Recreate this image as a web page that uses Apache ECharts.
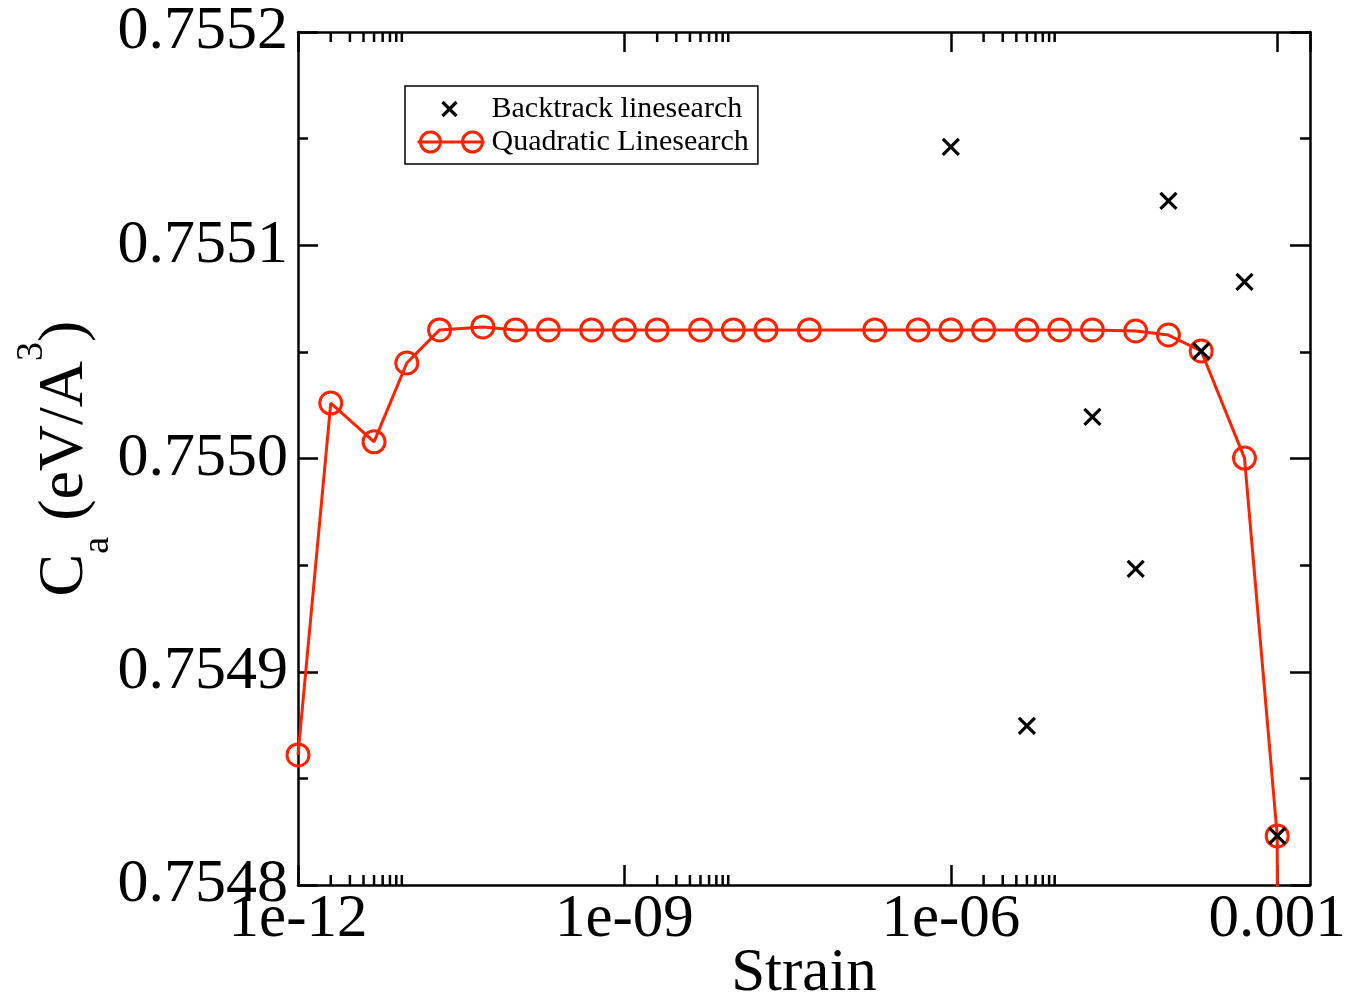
<!DOCTYPE html>
<html>
<head>
<meta charset="utf-8">
<script src="https://cdn.jsdelivr.net/npm/echarts@6/dist/echarts.min.js"></script>
<style>
html,body{margin:0;padding:0;background:#fff;}
#chart{width:1355px;height:1001px;}
</style>
</head>
<body>
<div id="chart"></div>
<script>
// ---- data ----
const quadStrain = [1e-12, 2e-12, 5e-12, 1e-11, 2e-11, 5e-11, 1e-10, 2e-10, 5e-10, 1e-9, 2e-9, 5e-9, 1e-8, 2e-8, 5e-8, 2e-7, 5e-7, 1e-6, 2e-6, 5e-6, 1e-5, 2e-5, 5e-5, 1e-4, 2e-4, 5e-4, 1e-3, 1.02e-3];
const quadCa = [0.754861, 0.755026, 0.7550078, 0.7550448, 0.7550603, 0.7550617, 0.7550603, 0.7550603, 0.7550603, 0.7550603, 0.7550603, 0.7550603, 0.7550603, 0.7550603, 0.7550603, 0.7550603, 0.7550603, 0.7550603, 0.7550603, 0.7550603, 0.7550603, 0.7550603, 0.7550598, 0.7550579, 0.7550504, 0.7550002, 0.754823, 0.75450];
const backStrain = [1e-6, 5e-6, 2e-5, 5e-5, 1e-4, 2e-4, 5e-4, 1e-3];
const backCa = [0.7551461, 0.7548746, 0.7550195, 0.7549482, 0.7551208, 0.7550504, 0.7550828, 0.754823];
const xTickExps = [-12, -9, -6, -3];
const xTickLabels = ['1e-12', '1e-09', '1e-06', '0.001'];
const xMinorTicks = [2e-12, 3e-12, 4e-12, 5e-12, 6e-12, 7e-12, 8e-12, 9e-12,
                     2e-9, 3e-9, 4e-9, 5e-9, 6e-9, 7e-9, 8e-9, 9e-9,
                     2e-6, 3e-6, 4e-6, 5e-6, 6e-6, 7e-6, 8e-6, 9e-6];
const X_MIN = 1e-12, X_MAX = 2e-3, X_LOG_STEP = 3;
const Y_MIN = 0.7548, Y_MAX = 0.7552, Y_STEP = 0.0001;

const RED = '#ff2200';
const FONT = '"Liberation Serif", "Times New Roman", serif';

function zip(a, b) { return a.map((v, i) => [v, b[i]]); }

const chart = echarts.init(document.getElementById('chart'));

const axisLineStyle = { show: true, onZero: false, lineStyle: { color: '#000', width: 2.5 } };
const tickStyle = { show: true, inside: true, length: 20, lineStyle: { color: '#000', width: 2.5 } };
const minorStyle = { show: true, splitNumber: 2, length: 10, lineStyle: { color: '#000', width: 2.5 } };

function xLabel(v) {
  const lg = Math.log10(v);
  const e = Math.round(lg);
  const i = xTickExps.indexOf(e);
  if (i < 0 || Math.abs(lg - e) > 1e-6) return '';
  return xTickLabels[i];
}

const option = {
  backgroundColor: '#fff',
  animation: false,
  grid: { left: 298, right: 45, top: 32, bottom: 116, containLabel: false, outerBoundsMode: 'none' },
  xAxis: [
    {
      type: 'log', logBase: 10, min: X_MIN, max: X_MAX, interval: X_LOG_STEP, splitNumber: 3,
      position: 'bottom',
      axisLine: axisLineStyle, axisTick: tickStyle, splitLine: { show: false },
      axisLabel: { show: true, formatter: xLabel, fontFamily: FONT, fontSize: 61, color: '#000', margin: 4, showMaxLabel: false },
      name: 'Strain', nameLocation: 'middle', nameGap: 58, nameMoveOverlap: false,
      nameTextStyle: { fontFamily: FONT, fontSize: 61, color: '#000' }
    },
    {
      type: 'log', logBase: 10, min: X_MIN, max: X_MAX, interval: X_LOG_STEP, splitNumber: 3,
      position: 'top',
      axisLine: axisLineStyle, axisTick: tickStyle, splitLine: { show: false },
      axisLabel: { show: false }
    }
  ],
  yAxis: [
    {
      type: 'value', min: Y_MIN, max: Y_MAX, interval: Y_STEP, position: 'left',
      axisLine: axisLineStyle, axisTick: tickStyle, minorTick: minorStyle,
      splitLine: { show: false }, minorSplitLine: { show: false },
      axisLabel: { formatter: v => v.toFixed(4), fontFamily: FONT, fontSize: 62, color: '#000', margin: 10 },
      name: '{m|C}{sub|a}{m| (eV/A}{sup|3}{m|)}',
      nameLocation: 'middle', nameRotate: 90, nameGap: 181, nameMoveOverlap: false,
      nameTextStyle: {
        fontFamily: FONT, color: '#000',
        rich: {
          m: { fontFamily: FONT, fontSize: 64, lineHeight: 104, verticalAlign: 'middle', color: '#000' },
          sub: { fontFamily: FONT, fontSize: 38, lineHeight: 38, verticalAlign: 'bottom', color: '#000' },
          sup: { fontFamily: FONT, fontSize: 38, lineHeight: 38, verticalAlign: 'top', color: '#000' }
        }
      }
    },
    {
      type: 'value', min: Y_MIN, max: Y_MAX, interval: Y_STEP, position: 'right',
      axisLine: axisLineStyle, axisTick: tickStyle, minorTick: minorStyle,
      splitLine: { show: false }, minorSplitLine: { show: false },
      axisLabel: { show: false }
    }
  ],
  legend: {
    show: true, orient: 'vertical', left: 405, top: 86,
    padding: [8, 9, 7, 10], itemGap: 3, itemWidth: 67, itemHeight: 22,
    borderColor: '#000', borderWidth: 1.5, backgroundColor: '#fff',
    selectedMode: false,
    textStyle: { fontFamily: FONT, fontSize: 30, color: '#000', padding: [0, 0, 0, 2] },
    data: [
      { name: 'Backtrack linesearch', icon: 'path://M0,0M67,22M25,4L39,18M39,4L25,18',
        itemStyle: { color: 'none', borderColor: '#000', borderWidth: 3.2 } },
      { name: 'Quadratic Linesearch',
        icon: 'path://M0,11L67,11M23,11A10,10,0,1,1,3,11A10,10,0,1,1,23,11M65,11A10,10,0,1,1,45,11A10,10,0,1,1,65,11M0,0M67,22',
        itemStyle: { color: 'none', borderColor: RED, borderWidth: 3 } }
    ]
  },
  series: [
    {
      type: 'custom', name: 'minor-x', xAxisIndex: 0, yAxisIndex: 0, silent: true,
      data: xMinorTicks.map(v => [v, Y_MIN]),
      renderItem: function (params, api) {
        const x = api.value(0);
        const pb = api.coord([x, Y_MIN]);
        const pt = api.coord([x, Y_MAX]);
        const st = { stroke: '#000', lineWidth: 2.5 };
        return { type: 'group', children: [
          { type: 'line', shape: { x1: pb[0], y1: pb[1], x2: pb[0], y2: pb[1] - 10 }, style: st },
          { type: 'line', shape: { x1: pt[0], y1: pt[1], x2: pt[0], y2: pt[1] + 10 }, style: st }
        ]};
      }
    },
    {
      type: 'line', name: 'Quadratic Linesearch', xAxisIndex: 0, yAxisIndex: 0,
      data: zip(quadStrain, quadCa), clip: true,
      symbol: 'circle', symbolSize: 22, showAllSymbol: true,
      lineStyle: { color: RED, width: 3 },
      itemStyle: { color: 'rgba(255,255,255,0)', borderColor: RED, borderWidth: 3 },
      z: 3
    },
    {
      type: 'scatter', name: 'Backtrack linesearch', xAxisIndex: 0, yAxisIndex: 0,
      data: zip(backStrain, backCa),
      symbol: 'path://M0,0L10,10M10,0L0,10', symbolSize: 16,
      itemStyle: { color: '#000', borderColor: '#000', borderWidth: 3.2, opacity: 1 },
      z: 4
    }
  ]
};
chart.setOption(option);
</script>
</body>
</html>
